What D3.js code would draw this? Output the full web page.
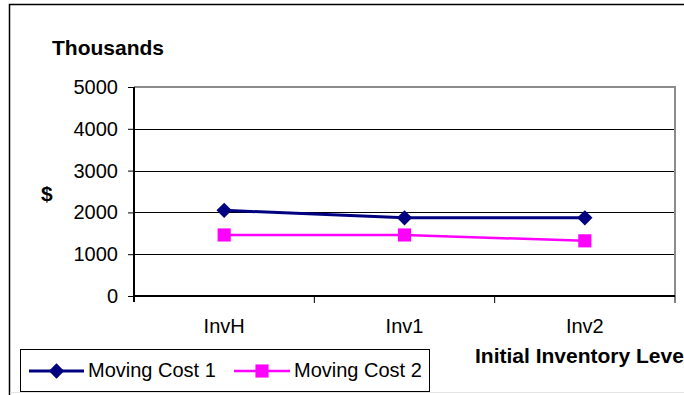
<!DOCTYPE html>
<html>
<head>
<meta charset="utf-8">
<script src="https://cdn.jsdelivr.net/npm/d3@7"></script>
<style>
  html, body { margin: 0; padding: 0; background: #fff; overflow: hidden; }
  svg { display: block; font-family: "Liberation Sans", Arial, sans-serif; }
</style>
</head>
<body>
<svg id="chart" width="684" height="395"></svg>
<script>
// Inventory levels along the x axis
const categories = ["InvH", "Inv1", "Inv2"];
// Moving cost in thousands of dollars
const movingCost1 = [2050, 1870, 1870];
const movingCost2 = [1460, 1460, 1320];
const yTicks = [0, 1000, 2000, 3000, 4000, 5000];

const seriesNames = ["Moving Cost 1", "Moving Cost 2"];
const seriesColors = ["#000080", "#FF00FF"];

const svg = d3.select("#chart");

// Outer frame
svg.append("path")
  .attr("d", "M9.5,395 V4.5 H684")
  .attr("fill", "none").attr("stroke", "#000").attr("stroke-width", 1.5);
svg.append("line")
  .attr("x1", 10).attr("x2", 684).attr("y1", 392.5).attr("y2", 392.5)
  .attr("stroke", "#e4e4e4");

const plot = { left: 134, right: 675, top: 87, bottom: 296 };

const x = d3.scaleBand().domain(categories).range([plot.left, plot.right]);
const y = d3.scaleLinear().domain([0, 5000]).range([plot.bottom, plot.top]);

// Horizontal gridlines
svg.append("g").selectAll("line")
  .data(yTicks.filter(t => t > 0 && t < 5000))
  .join("line")
  .attr("x1", plot.left).attr("x2", plot.right)
  .attr("y1", d => Math.round(y(d)) + 0.5).attr("y2", d => Math.round(y(d)) + 0.5)
  .attr("stroke", "#000").attr("stroke-width", 1);

// Plot area border (top and right)
svg.append("path")
  .attr("d", `M${plot.left},${plot.top} H${plot.right} V${plot.bottom}`)
  .attr("fill", "none").attr("stroke", "#8c8c8c").attr("stroke-width", 2);

// Y axis
const yAxis = d3.axisLeft(y).tickValues(yTicks).tickSize(6).tickPadding(10)
  .tickFormat(d3.format("d"));
const gy = svg.append("g").attr("transform", `translate(${plot.left},0)`).call(yAxis);
gy.select(".domain").attr("stroke", "#000").attr("stroke-width", 2)
  .attr("d", `M0,${plot.top} V${plot.bottom + 6}`);
gy.selectAll(".tick line").attr("stroke", "#000").attr("stroke-width", 1);
gy.selectAll(".tick text")
  .attr("font-size", 20).attr("fill", "#000")
  .attr("font-family", "'Liberation Sans', Arial, sans-serif");

// X axis with ticks at category boundaries
const gx = svg.append("g").attr("transform", `translate(0,${plot.bottom})`);
gx.append("line")
  .attr("x1", plot.left).attr("x2", plot.right)
  .attr("stroke", "#000").attr("stroke-width", 2);
const boundaries = categories.map(c => x(c) + x.bandwidth());
gx.selectAll("line.tk").data(boundaries).join("line").attr("class", "tk")
  .attr("x1", d => d).attr("x2", d => d).attr("y1", 0).attr("y2", 7)
  .attr("stroke", "#000").attr("stroke-width", 1);
gx.selectAll("text").data(categories).join("text")
  .attr("x", d => x(d) + x.bandwidth() / 2)
  .attr("y", 37)
  .attr("text-anchor", "middle")
  .attr("font-size", 20)
  .text(d => d);

// Series lines and markers
const allSeries = [movingCost1, movingCost2];
const line = d3.line()
  .x((d, i) => x(categories[i]) + x.bandwidth() / 2)
  .y(d => y(d));

const diamond = d3.symbol().type(d3.symbolDiamond2).size(150);
const square = d3.symbol().type(d3.symbolSquare2).size(220);
const symbols = [diamond, square];
const widths = [3, 2.5];

allSeries.forEach((vals, si) => {
  svg.append("path").datum(vals)
    .attr("d", line).attr("fill", "none")
    .attr("stroke", seriesColors[si]).attr("stroke-width", widths[si]);
  svg.append("g").selectAll("path").data(vals).join("path")
    .attr("transform", (d, i) => `translate(${x(categories[i]) + x.bandwidth() / 2},${y(d)})`)
    .attr("d", symbols[si]())
    .attr("fill", seriesColors[si]);
});

// Axis titles
svg.append("text").attr("x", 52).attr("y", 55)
  .attr("font-size", 21).attr("font-weight", "bold").text("Thousands");
svg.append("text").attr("x", 41).attr("y", 201)
  .attr("font-size", 21).attr("font-weight", "bold").text("$");
svg.append("text").attr("x", 475).attr("y", 363)
  .attr("font-size", 21).attr("font-weight", "bold").text("Initial Inventory Level");

// Legend
const legend = svg.append("g");
legend.append("rect")
  .attr("x", 20.5).attr("y", 349.5).attr("width", 409).attr("height", 42)
  .attr("fill", "#fff").attr("stroke", "#000").attr("stroke-width", 1);
const legendItems = [
  { x0: 29, x1: 84, tx: 88 },
  { x0: 234, x1: 290, tx: 294 }
];
legendItems.forEach((it, si) => {
  const ly = 371;
  legend.append("line")
    .attr("x1", it.x0).attr("x2", it.x1).attr("y1", ly).attr("y2", ly)
    .attr("stroke", seriesColors[si]).attr("stroke-width", widths[si]);
  legend.append("path")
    .attr("transform", `translate(${(it.x0 + it.x1) / 2},${ly})`)
    .attr("d", symbols[si]())
    .attr("fill", seriesColors[si]);
  legend.append("text")
    .attr("x", it.tx).attr("y", 377)
    .attr("font-size", 20)
    .text(seriesNames[si]);
});
</script>
</body>
</html>
